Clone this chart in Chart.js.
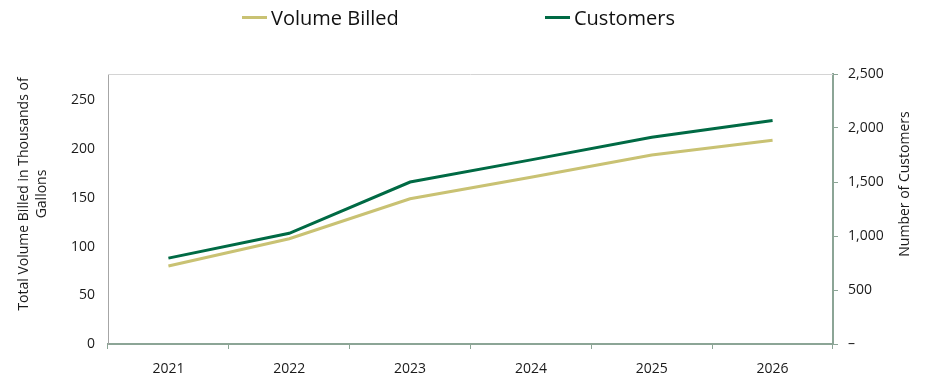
<!DOCTYPE html>
<html>
<head>
<meta charset="utf-8">
<script src="https://cdn.jsdelivr.net/npm/chart.js@4/dist/chart.umd.min.js"></script>
<style>
  html, body { margin: 0; padding: 0; background: #fff; }
  #wrap { position: relative; width: 927px; height: 376px; }
  #legend { position: absolute; top: 0; left: 0; width: 927px; height: 40px; font-family: "Open Sans", sans-serif; font-size: 20px; color: #111; }
  .item { position: absolute; top: 4px; display: flex; align-items: center; white-space: nowrap; }
  .swatch { display: inline-block; width: 25px; height: 3px; margin-right: 4px; }
</style>
</head>
<body>
<div id="wrap">
  <div id="legend"></div>
  <canvas id="myChart" width="927" height="376"></canvas>
</div>
<script>
const years = ["2021", "2022", "2023", "2024", "2025", "2026"];
const volumeBilled = [80, 108, 149, 171, 194, 209];
const customers = [795, 1025, 1500, 1705, 1915, 2070];

const volumeColor = "#c9c273";
const customerColor = "#006a44";
const axisGreen = "#8ca596";
const textFont = "Open Sans";

// legend entries, laid out by hand above the plot
const legendSpots = [242, 545];
const legendDiv = document.getElementById("legend");
[["Volume Billed", volumeColor], ["Customers", customerColor]].forEach((entry, i) => {
  const item = document.createElement("div");
  item.className = "item";
  item.style.left = legendSpots[i] + "px";
  item.innerHTML = `<span class="swatch" style="background:${entry[1]}"></span>${entry[0]}`;
  legendDiv.appendChild(item);
});

// top frame line plus both rotated axis titles
const framePlugin = {
  id: "frame",
  afterDraw(chart) {
    const { ctx, chartArea } = chart;
    ctx.save();
    ctx.strokeStyle = "#d4d4d4";
    ctx.lineWidth = 1;
    ctx.beginPath();
    ctx.moveTo(chartArea.left, chartArea.top + 0.5);
    ctx.lineTo(chartArea.right, chartArea.top + 0.5);
    ctx.stroke();

    ctx.fillStyle = "#1a1a1a";
    ctx.font = `14px "${textFont}"`;
    ctx.textAlign = "center";
    ctx.textBaseline = "middle";
    const midY = (chartArea.top + chartArea.bottom) / 2;

    ctx.save();
    ctx.translate(chartArea.left - 84, midY - 15);
    ctx.rotate(-Math.PI / 2);
    ctx.fillText("Total Volume Billed in Thousands of", 0, 0);
    ctx.fillText("Gallons", 0, 18);
    ctx.restore();

    ctx.save();
    ctx.translate(chartArea.right + 72, midY - 25);
    ctx.rotate(-Math.PI / 2);
    ctx.fillText("Number of Customers", 0, 0);
    ctx.restore();
    ctx.restore();
  }
};

const config = {
  type: "line",
  data: {
    labels: years,
    datasets: [
      {
        label: "Volume Billed",
        data: volumeBilled,
        borderColor: volumeColor,
        backgroundColor: volumeColor,
        borderWidth: 3,
        pointRadius: 0,
        tension: 0,
        yAxisID: "y"
      },
      {
        label: "Customers",
        data: customers,
        borderColor: customerColor,
        backgroundColor: customerColor,
        borderWidth: 3,
        pointRadius: 0,
        tension: 0,
        yAxisID: "y1"
      }
    ]
  },
  options: {
    responsive: false,
    animation: false,
    layout: { padding: { top: 74, left: 0, right: 0, bottom: 0 } },
    plugins: {
      legend: { display: false },
      tooltip: { enabled: false }
    },
    scales: {
      x: {
        offset: true,
        grid: { display: true, offset: true, drawOnChartArea: false, drawTicks: true, tickLength: 5, color: axisGreen, lineWidth: 1 },
        border: { display: true, color: axisGreen, width: 2 },
        ticks: { color: "#1a1a1a", font: { family: textFont, size: 14 }, padding: 12, maxRotation: 0 },
        afterFit: (scale) => { scale.height = 32; }
      },
      y: {
        position: "left",
        min: 0,
        max: 277,
        grid: { display: true, drawOnChartArea: false, drawTicks: false, color: "#a6a6a6" },
        border: { display: true, color: "#a6a6a6", width: 1 },
        ticks: { stepSize: 50, color: "#1a1a1a", font: { family: textFont, size: 14 }, padding: 13 },
        afterBuildTicks: (scale) => { scale.ticks = scale.ticks.filter((t) => t.value % 50 === 0); },
        afterFit: (scale) => { scale.width = 108; }
      },
      y1: {
        position: "right",
        min: 0,
        max: 2500,
        grid: { display: true, drawOnChartArea: false, drawTicks: true, tickLength: 5, color: axisGreen },
        border: { display: true, color: axisGreen, width: 2 },
        ticks: {
          stepSize: 500,
          color: "#1a1a1a",
          font: { family: textFont, size: 14 },
          padding: 10,
          callback: (v) => (v === 0 ? "–" : v.toLocaleString("en-US"))
        },
        afterFit: (scale) => { scale.width = 94; }
      }
    }
  },
  plugins: [framePlugin]
};

window.onload = () => {
  new Chart(document.getElementById("myChart"), config);
};
</script>
</body>
</html>
